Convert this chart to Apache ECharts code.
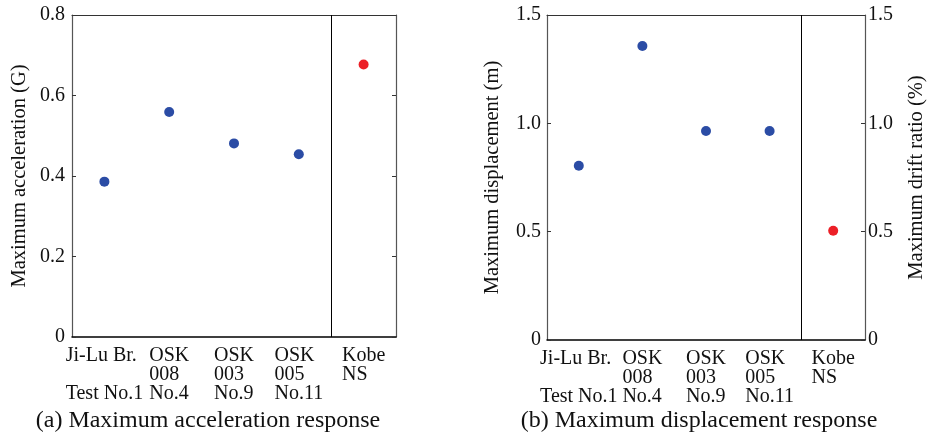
<!DOCTYPE html>
<html>
<head>
<meta charset="utf-8">
<script src="https://cdn.jsdelivr.net/npm/echarts@6/dist/echarts.min.js"></script>
<style>
  html, body { margin: 0; padding: 0; background: #fff; }
  #main { width: 928px; height: 434px; }
</style>
</head>
<body>
<div id="main"></div>
<script>
// categories (lines of each label)
const categories = [
  "Ji-Lu Br.\n \nTest No.1",
  "OSK\n008\nNo.4",
  "OSK\n003\nNo.9",
  "OSK\n005\nNo.11",
  "Kobe\nNS"
];
// maximum acceleration (G)
const accel = [0.386, 0.559, 0.481, 0.454, 0.677];
// maximum displacement (m)
const disp = [0.804, 1.357, 0.965, 0.965, 0.504];

const accelTicks = [0, 0.2, 0.4, 0.6, 0.8];
const dispTicks = [0, 0.5, 1.0, 1.5];

// divider between the test records and Kobe NS (category boundary)
const dividerAt = 3.5;

const FONT = "Liberation Serif";
const BLUE = "#2b4ca5";
const RED = "#ec1f27";
const FRAME = "#333";

const chart = echarts.init(document.getElementById("main"));

// multi-line label, lines left aligned inside a centred block
const catLabel = {
  margin: 9,
  interval: 0,
  formatter: (v) => v.split("\n").map((l) => "{l|" + l + "}").join("\n"),
  rich: {
    l: { align: "left", fontFamily: FONT, fontSize: 20, lineHeight: 19, color: "#111" }
  }
};

function bottomAxis(gridIndex) {
  return {
    type: "category",
    gridIndex: gridIndex,
    position: "bottom",
    data: categories,
    axisLine: { onZero: false, lineStyle: { color: "#000", width: 1.5 } },
    axisTick: { inside: true, alignWithLabel: true, length: 4, interval: 0, lineStyle: { color: FRAME } },
    axisLabel: catLabel
  };
}

function topAxis(gridIndex) {
  return {
    type: "category",
    gridIndex: gridIndex,
    position: "top",
    data: categories,
    axisLine: { onZero: false, lineStyle: { color: FRAME, width: 1 } },
    axisTick: { show: false },
    axisLabel: { show: false }
  };
}

// hidden index axis: category i sits at value i, so band edges are at i +/- 0.5
function indexAxis(gridIndex) {
  return {
    type: "value",
    gridIndex: gridIndex,
    min: -0.5,
    max: categories.length - 0.5,
    show: false,
    axisLine: { onZero: false }
  };
}

function valueAxis(gridIndex, pos, ticks, name, showLabel, nameGap, margin) {
  return {
    type: "value",
    gridIndex: gridIndex,
    position: pos,
    min: ticks[0],
    max: ticks[ticks.length - 1],
    interval: ticks[1] - ticks[0],
    name: name,
    nameLocation: "middle",
    nameGap: nameGap,
    nameTextStyle: { fontFamily: FONT, fontSize: 20.5, color: "#111" },
    axisLine: { show: true, onZero: false, lineStyle: { color: "#555", width: 1.2 } },
    axisTick: { show: true, inside: true, length: 4, lineStyle: { color: FRAME } },
    axisLabel: {
      show: showLabel,
      margin: margin,
      fontFamily: FONT,
      fontSize: 20,
      color: "#111",
      formatter: (v) => (v === 0 ? "0" : v.toFixed(1))
    },
    splitLine: { show: false }
  };
}

const pointColor = (p) => (p.dataIndex === 4 ? RED : BLUE);

function dividerSeries(xAxisIndex, yAxisIndex) {
  return {
    type: "line",
    xAxisIndex: xAxisIndex,
    yAxisIndex: yAxisIndex,
    data: [],
    silent: true,
    markLine: {
      silent: true,
      symbol: "none",
      label: { show: false },
      lineStyle: { color: "#000", width: 1, type: "solid" },
      data: [{ xAxis: dividerAt }]
    }
  };
}

const option = {
  backgroundColor: "#fff",
  animation: false,
  grid: [
    { left: 72, top: 15, width: 324, height: 322 },
    { left: 547, top: 15, width: 325, height: 325 }
  ],
  xAxis: [bottomAxis(0), topAxis(0), bottomAxis(1), topAxis(1), indexAxis(0), indexAxis(1)],
  yAxis: [
    valueAxis(0, "left", accelTicks, "Maximum acceleration (G)", true, 42, 7),
    valueAxis(0, "right", accelTicks, "", false, 0, 3),
    valueAxis(1, "left", dispTicks, "Maximum displacement (m)", true, 44, 6),
    valueAxis(1, "right", dispTicks, "Maximum drift ratio (%)", true, 41, 3)
  ],
  series: [
    dividerSeries(4, 0),
    dividerSeries(5, 2),
    {
      type: "scatter",
      xAxisIndex: 0,
      yAxisIndex: 0,
      symbolSize: 10,
      itemStyle: { color: pointColor, opacity: 1 },
      data: accel
    },
    {
      type: "scatter",
      xAxisIndex: 2,
      yAxisIndex: 2,
      symbolSize: 10,
      itemStyle: { color: pointColor, opacity: 1 },
      data: disp
    }
  ],
  graphic: [
    {
      type: "text",
      x: 208,
      y: 409,
      style: { text: "(a) Maximum acceleration response", align: "center", verticalAlign: "top", fontFamily: FONT, fontSize: 24, fill: "#111" }
    },
    {
      type: "text",
      x: 699,
      y: 409,
      style: { text: "(b) Maximum displacement response", align: "center", verticalAlign: "top", fontFamily: FONT, fontSize: 24, fill: "#111" }
    }
  ]
};

chart.setOption(option);
</script>
</body>
</html>
